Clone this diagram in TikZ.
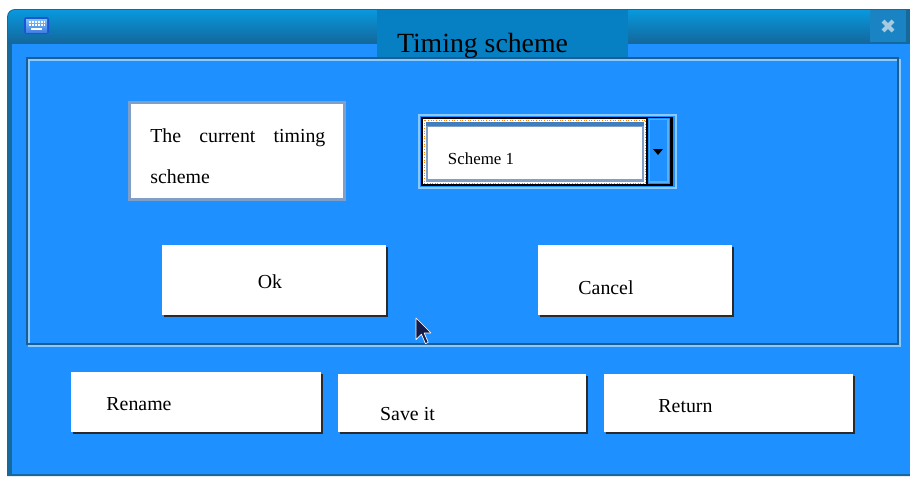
\documentclass[tikz,border=0pt]{standalone}
\usepackage{fontspec}
\setmainfont{Liberation Serif}
\usepackage{tikz}

\definecolor{winblue}{HTML}{1E90FF}
\definecolor{winedge}{HTML}{15699C}
\definecolor{bartop}{HTML}{0898DD}
\definecolor{barbot}{HTML}{13689C}
\definecolor{titlebox}{HTML}{0680C2}
\definecolor{closebox}{HTML}{1983C4}
\definecolor{closex}{HTML}{A6CBE0}
\definecolor{etchdark}{HTML}{1A5E96}
\definecolor{etchlight}{HTML}{8CC8F8}
\definecolor{fieldedge}{HTML}{7F9FC8}
\definecolor{fieldband}{HTML}{3F7FBF}
\definecolor{arrowedge}{HTML}{5AAEFF}
\definecolor{btnshadow}{HTML}{2A2A2A}
\definecolor{icondark}{HTML}{1B55D6}
\definecolor{iconlight}{HTML}{7CC2F6}
\definecolor{cursorfill}{HTML}{141A4A}

\tikzset{
	btnface/.style={fill=white},
	btnshade/.style={fill=btnshadow},
	lbl/.style={anchor=base, inner sep=0pt, font=\fontsize{11.3}{13}\selectfont},
}

\begin{document}
\begin{tikzpicture}[x=0.2mm,y=-0.2mm]
			\useasboundingbox (0,0) rectangle (910,478);
			
			\fill[winedge] (7,476) -- (7,17) arc (180:270:8) -- (910,9) -- (910,476) -- cycle;
			\shade[top color=bartop, bottom color=barbot] (8,43) -- (8,17) arc (180:270:7) -- (906,10) -- (906,43) -- cycle;
			\fill[winblue] (12,44) rectangle (910,474);
			
			\fill[closebox] (870,10) rectangle (906,42);
			\draw[closex, line width=2.4pt] (883,21) -- (893,31) (883,31) -- (893,21);
			
			\fill[icondark, rounded corners=1] (24,17) rectangle (49,34);
			\shade[top color=iconlight, bottom color=icondark!60!iconlight] (26,19) rectangle (47,32);
			\draw[white, line width=0.8pt, dash pattern=on 1pt off 0.7pt] (29,22) -- (44,22) (29,25) -- (44,25);
			\draw[white, line width=0.8pt] (31,29) -- (42,29);
			
			\draw[etchlight, line width=0.8pt] (29,60) rectangle (900,346);
			\draw[etchdark, line width=0.8pt] (27,58) rectangle (898,344);
			
			\fill[titlebox] (377,10) rectangle (628,57);
			\begin{scope}
				\clip (377,10) rectangle (628,57);
				\node[anchor=base, inner sep=0pt, font=\fontsize{15.8}{18}\selectfont] (title) at (482.5,52.5) {Timing scheme};
			\end{scope}
			
			\draw[fieldedge, line width=1.7pt, fill=white] (129.5,102.5) rectangle (344.5,199.5);
			\node[lbl, anchor=base west] (curtxt) at (150,142) {\makebox[99.6pt][s]{The current timing}};
			\node[lbl, anchor=base west] (curtxtb) at (150,183) {scheme};
			
			\draw[etchlight, line width=0.6pt] (419,115) rectangle (676,188);
			\fill[black] (421,117) rectangle (673,186);
			\fill[white] (423,119) rectangle (646,184);
			\draw[orange, densely dotted, line width=0.5pt] (424,120) rectangle (645.5,183);
			\fill[fieldedge] (425.5,121.5) rectangle (644,181.5);
			\fill[fieldband] (425.5,121.5) rectangle (644,126);
			\fill[white] (428,127) rectangle (642,179);
			\fill[winblue] (648,118) rectangle (670,184);
			\draw[arrowedge, line width=0.6pt] (649.5,119.5) rectangle (668,182);
			\fill[black] (653,149) -- (663,149) -- (658,155) -- cycle;
			\node[anchor=base, inner sep=0pt, font=\fontsize{9.6}{11}\selectfont] (scheme) at (481,164) {Scheme 1};
			
			\fill[btnshade] (164,247) rectangle (388,317);
			\fill[btnface] (162,245) rectangle (386,315);
			\node[lbl] (ok) at (270,288) {Ok};
			
			\fill[btnshade] (540,247) rectangle (734,317);
			\fill[btnface] (538,245) rectangle (732,315);
			\node[lbl] (cancel) at (606,294) {Cancel};
			
			\fill[btnshade] (73,374) rectangle (323,434);
			\fill[btnface] (71,372) rectangle (321,432);
			\node[lbl] (rename) at (139,410) {Rename};
			
			\fill[btnshade] (340,376) rectangle (588,434);
			\fill[btnface] (338,374) rectangle (586,432);
			\node[lbl] (saveit) at (407.5,420) {Save it};
			
			\fill[btnshade] (606,376) rectangle (855,434);
			\fill[btnface] (604,374) rectangle (853,432);
			\node[lbl] (return) at (685.5,412) {Return};
			
			\filldraw[fill=cursorfill, draw=white, line width=0.4pt, line join=round] (416,318) -- (416,339.6) -- (421.4,334.2) -- (425.5,343.7) -- (428.2,342.3) -- (424.1,332.9) -- (430.9,332.9) -- cycle;
		\end{tikzpicture}
\end{document}
